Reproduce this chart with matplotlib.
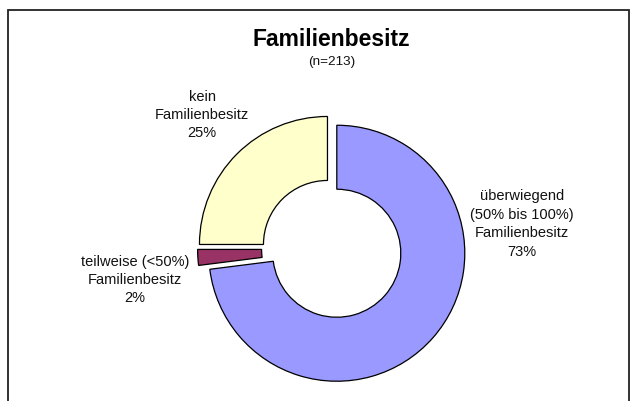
import matplotlib
matplotlib.use("Agg")
import matplotlib.pyplot as plt
from matplotlib.patches import Rectangle

# data
categories = ["überwiegend\n(50% bis 100%)\nFamilienbesitz",
              "teilweise (<50%)\nFamilienbesitz",
              "kein\nFamilienbesitz"]
shares = [73, 2, 25]
colors = ["#9999FF", "#993366", "#FFFFCC"]
title = "Familienbesitz"
subtitle = "(n=213)"

W, H = 634, 401
plt.rcParams["font.family"] = ["Liberation Sans", "DejaVu Sans"]

fig = plt.figure(figsize=(W / 100, H / 100), dpi=100)
ax = fig.add_axes([0, 0, 1, 1])

# pie laid out in pixel units (y measured from the top, flipped to data)
cx, cy, R = 332, 249, 128
ax.pie(shares, colors=colors, startangle=90, counterclock=False,
       center=(cx, H - cy), radius=R, explode=[6.4] * len(shares),
       wedgeprops=dict(width=64, edgecolor="black", linewidth=0.9),
       frame=True)

ax.set_xlim(0, W)
ax.set_ylim(0, H)
ax.set_aspect("equal")
ax.axis("off")

# labels with percentages
label_pos = [(522, 224), (135, 280), (202, 115)]
for cat, val, (lx, ly) in zip(categories, shares, label_pos):
    ax.text(lx, H - ly, f"{cat}\n{val}%", ha="center", va="center",
            fontsize=10.5, linespacing=1.4, color="#111111")

ax.text(331, H - 40, title, ha="center", va="center", fontsize=16.5, fontweight="bold")
ax.text(332, H - 62, subtitle, ha="center", va="center", fontsize=9.7, color="#111111")

# chart frame (bottom edge lies outside the image)
ax.add_patch(Rectangle((8, -10), 621, H - 10 + 10, fill=False, edgecolor="#222222",
                       linewidth=1.3, clip_on=False))

fig.savefig("out.png", dpi=100)
